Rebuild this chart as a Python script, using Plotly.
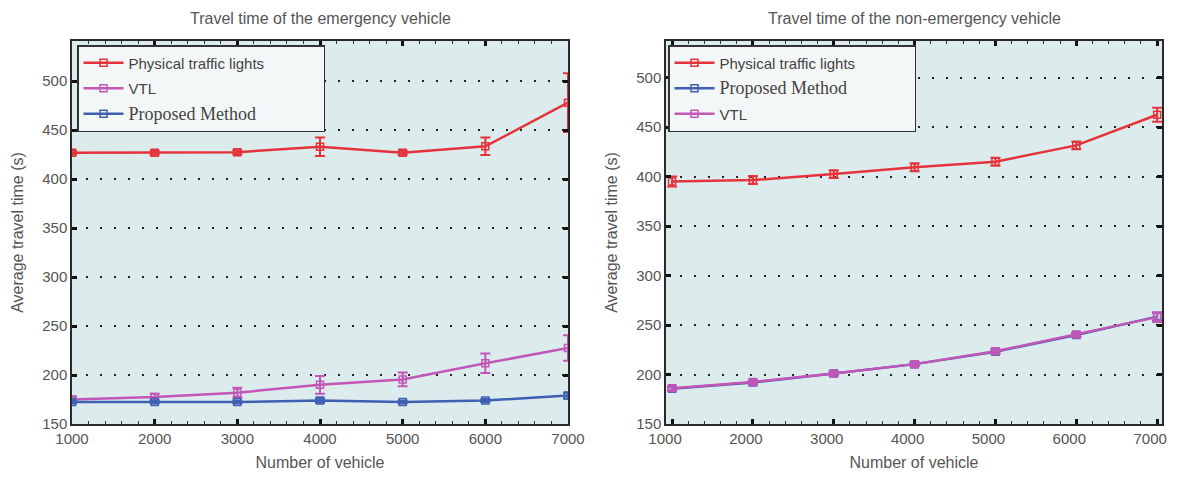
import plotly.graph_objects as go

x_vehicles = [1000, 2000, 3000, 4000, 5000, 6000, 7000]

# Emergency vehicle (left)
em_physical = [427, 427, 427.5, 433, 427, 433.5, 478]
em_physical_err = [2, 2, 2, 9.5, 2, 9, 30]
em_vtl = [175, 177.5, 182, 190, 195.5, 212, 227.5]
em_vtl_err = [3, 3.5, 5, 9, 7, 10, 13]
em_proposed = [172.5, 172.5, 172.5, 174, 172.5, 174, 179]
em_proposed_err = [1.5, 1.5, 1.5, 2, 1.5, 1.5, 3]

# Non-emergency vehicle (right)
ne_physical = [395, 396.5, 402.5, 409.5, 415, 431.5, 462.5]
ne_physical_err = [5, 4, 4, 4, 4, 4, 7]
ne_proposed = [185.5, 192, 201, 210.5, 223, 240, 258.5]
ne_proposed_err = [2, 2, 2, 2, 2, 2, 4]
ne_vtl = [186, 192.5, 201, 210.5, 223.5, 240.5, 258]
ne_vtl_err = [2, 2, 2, 2, 2, 2, 5]

y_ticks = [150, 200, 250, 300, 350, 400, 450, 500]
x_ticks = [1000, 2000, 3000, 4000, 5000, 6000, 7000]
x_tick_labels = ["1000", "2000", "3000", "4000", "5000", "6000", "7000"]

titles = ["Travel time of the emergency vehicle", "Travel time of the non-emergency vehicle"]

RED = "#e5333b"
MAG = "#c257b8"
BLUE = "#3f5fb3"
FONT = "Liberation Sans Narrow, Liberation Sans, Arial"
SERIF = "Liberation Serif, Times New Roman"
TXT = "#555555"

# page body has an 8px margin; figure is sized to fit inside the 1177x479 window
OFF = 8
W, H = 1177 - OFF, 479 - 2 * OFF
def px(v):
    return (v - OFF) / W
def py(v):
    return 1 - (v - OFF) / H

fig = go.Figure()
PAD = "\u00a0" * 13

def add(xax, yax, y, err, color, name, rank, legend, serif=False, pad=False):
    label = f"<span style='font-family:{SERIF};font-size:18px'>{name}</span>" if serif else name
    if pad:
        label = label + PAD
    fig.add_trace(go.Scatter(
        x=x_vehicles, y=y, xaxis=xax, yaxis=yax, name=label, legend=legend,
        legendrank=rank, legendgroup=f"{legend}{rank}", mode="lines+markers",
        line=dict(color=color, width=2.5),
        marker=dict(symbol="square-open", size=7, color=color, line=dict(width=1.5)),
        error_y=dict(type="data", array=err, visible=True, color=color, thickness=2, width=5),
    ))

add("x", "y", em_physical, em_physical_err, RED, "Physical traffic lights", 1, "legend", pad=True)
add("x", "y", em_vtl, em_vtl_err, MAG, "VTL", 2, "legend")
add("x", "y", em_proposed, em_proposed_err, BLUE, "Proposed Method", 3, "legend", serif=True)

add("x2", "y2", ne_physical, ne_physical_err, RED, "Physical traffic lights", 1, "legend2", pad=True)
add("x2", "y2", ne_proposed, ne_proposed_err, BLUE, "Proposed Method", 2, "legend2", serif=True)
add("x2", "y2", ne_vtl, ne_vtl_err, MAG, "VTL", 3, "legend2")

axis_common = dict(
    showline=True, linecolor="#2a2a2a", linewidth=1.5, mirror="ticks",
    ticks="inside", ticklen=5, tickwidth=3, tickcolor="#111111",
    tickfont=dict(family=FONT, size=15, color=TXT),
    zeroline=False, automargin=False, ticklabeloverflow="allow",
)

xdom1 = [px(72), px(568)]
xdom2 = [px(666), px(1162)]
ydom = [py(424), py(41)]

title_font = dict(family=FONT, size=16, color=TXT)
minor = dict(ticks="inside", ticklen=3, tickwidth=1, tickcolor="#333", dtick=200, showgrid=False)
grid = dict(showgrid=True, gridcolor="#222222", gridwidth=2, griddash="2px,12px")
legend_common = dict(xanchor="left", yanchor="top",
                     bgcolor="#f4f7f7", bordercolor="#333333", borderwidth=1.5,
                     font=dict(family=FONT, size=15, color="#444444"),
                     itemwidth=40, tracegroupgap=3, traceorder="grouped")

fig.update_layout(
    width=W, height=H,
    margin=dict(l=0, r=0, t=0, b=0),
    paper_bgcolor="white",
    plot_bgcolor="#dcebec",
    showlegend=True,
    xaxis=dict(domain=xdom1, anchor="y", range=[1000, 7000], tickvals=x_ticks, ticktext=x_tick_labels,
               showgrid=False, minor=minor,
               title=dict(text="Number of vehicle", font=title_font, standoff=14),
               **axis_common),
    yaxis=dict(domain=ydom, anchor="x", range=[150, 541], tickvals=y_ticks, **grid,
               title=dict(text="Average travel time (s)", font=title_font, standoff=15),
               **axis_common),
    xaxis2=dict(domain=xdom2, anchor="y2", range=[925, 7060], tickvals=x_ticks, ticktext=x_tick_labels,
                showgrid=False, minor=minor, ticklabelshift=-7,
                title=dict(text="Number of vehicle", font=title_font, standoff=14),
                **axis_common),
    yaxis2=dict(domain=ydom, anchor="x2", range=[150, 537], tickvals=y_ticks, **grid,
                title=dict(text="Average travel time (s)", font=title_font, standoff=15),
                **axis_common),
    legend=dict(x=px(77), y=py(45), **legend_common),
    legend2=dict(x=px(668), y=py(45), **legend_common),
    annotations=[
        dict(text=titles[0], x=(xdom1[0] + xdom1[1]) / 2, y=py(18), xref="paper", yref="paper",
             xanchor="center", yanchor="middle",
             showarrow=False, font=dict(family=FONT, size=16, color=TXT)),
        dict(text=titles[1], x=(xdom2[0] + xdom2[1]) / 2, y=py(18), xref="paper", yref="paper",
             xanchor="center", yanchor="middle",
             showarrow=False, font=dict(family=FONT, size=16, color=TXT)),
    ],
)

fig.write_html("out.html")
